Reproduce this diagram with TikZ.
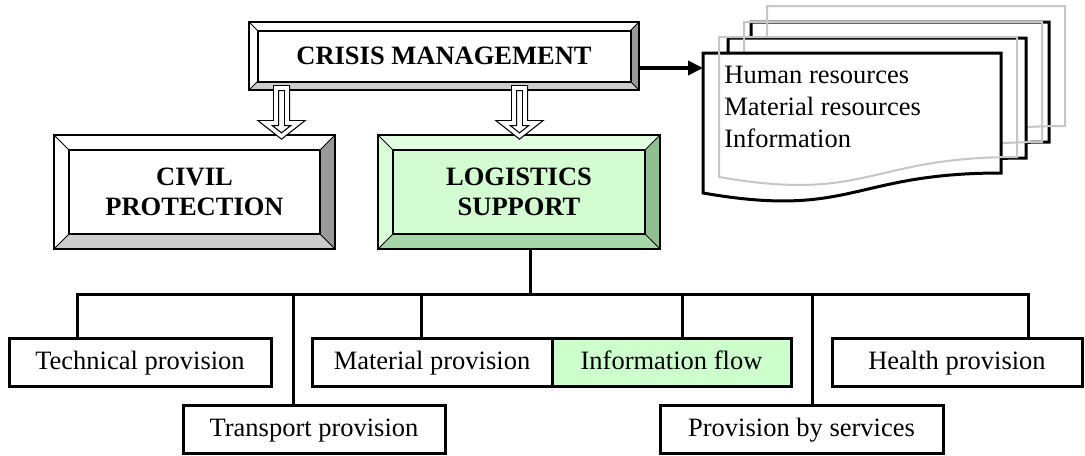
\documentclass[tikz,border=0pt]{standalone}
\usepackage{fontspec}
\setmainfont{Liberation Serif}
\usetikzlibrary{arrows.meta}

\definecolor{bvdark}{HTML}{999999}
\definecolor{bvlight}{HTML}{CCCCCC}
\definecolor{lgfill}{HTML}{D3FCD3}
\definecolor{gtop}{HTML}{E2FFE2}
\definecolor{gleft}{HTML}{DAFDDA}
\definecolor{gright}{HTML}{90BF90}
\definecolor{gbottom}{HTML}{A6D6A6}
\definecolor{infofill}{HTML}{CCFFCC}

% bevel frame round a node: name, bevel, top, left, right, bottom
\newcommand{\bevel}[6]{%
  \path (#1.north west) ++(#2,#2) coordinate (#1-a)
        (#1.north east) ++(-#2,#2) coordinate (#1-b)
        (#1.south east) ++(-#2,-#2) coordinate (#1-c)
        (#1.south west) ++(#2,-#2) coordinate (#1-d);
  \fill[#3] (#1.north west) -- (#1.north east) -- (#1-b) -- (#1-a) -- cycle;
  \fill[#4] (#1.north west) -- (#1-a) -- (#1-d) -- (#1.south west) -- cycle;
  \fill[#5] (#1.north east) -- (#1.south east) -- (#1-c) -- (#1-b) -- cycle;
  \fill[#6] (#1.south west) -- (#1.south east) -- (#1-c) -- (#1-d) -- cycle;
  \draw[line width=0.5pt] (#1.north west) -- (#1-a) (#1.north east) -- (#1-b)
        (#1.south east) -- (#1-c) (#1.south west) -- (#1-d);
  \draw[line width=1pt] (#1.north west) rectangle (#1.south east)
        (#1-a) rectangle (#1-c);
}

% one sheet of the document stack: x, y, style
\newcommand{\docpage}[3]{%
  \draw[#3] (#1,#2) -- ({#1+298},#2) -- ({#1+298},{#2+120})
    .. controls ({#1+149},{#2+120}) and ({#1+149},{#2+166}) .. (#1,{#2+140}) -- cycle;
}

\begin{document}
\begin{tikzpicture}[x=0.5pt, y=-0.5pt,
    bnode/.style = {shape = rectangle,
                    inner sep = 0pt,
                    outer sep = 0pt,
                    align = center,
                    font = \fontsize{13.25}{15}\selectfont\bfseries},
    pnode/.style = {shape = rectangle,
                    draw,
                    line width = 1.5pt,
                    inner sep = 0pt,
                    outer sep = 0pt,
                    minimum height = 24pt,
                    text height = 10pt,
                    text depth = 3pt,
                    font = \fontsize{13.25}{16}\selectfont},
    link/.style = {line width = 1.5pt, line cap = rect},
    hollow/.style = {draw, fill = white, line width = 0.6pt,
                     double = white, double distance = 1.8pt},
    page/.style = {draw, fill = white, line width = 1.5pt},
    shade/.style = {draw = gray!45, line width = 1pt},
    docarrow/.style = {line width = 1.75pt,
                       -{Triangle[length = 7.5pt, width = 7pt]}}]
  \useasboundingbox (0,0) rectangle (1085,455);

  % document stack
  \docpage{751}{22}{page}
  \docpage{767}{6}{shade}
  \docpage{728}{38}{page}
  \docpage{744}{22}{shade}
  \docpage{703}{53}{page}
  \docpage{719}{37}{shade}
  \node[anchor = north west, inner sep = 0pt, align = left,
        font = \fontsize{13.25}{16}\selectfont] (res) at (724,66)
        {Human resources\\Material resources\\Information};

  % upper boxes
  \node[bnode, minimum width = 195pt, minimum height = 34pt] (crisis) at (444,56)
        {CRISIS MANAGEMENT};
  \node[bnode, minimum width = 140.5pt, minimum height = 57pt] (civil) at (194.5,192)
        {CIVIL\\PROTECTION};
  \node[bnode, fill = lgfill, minimum width = 141pt, minimum height = 57pt] (logistics)
        at (519,192) {LOGISTICS\\SUPPORT};
  \bevel{crisis}{8.5}{white}{white}{bvdark}{bvlight}
  \bevel{civil}{15}{white}{white}{bvdark}{bvlight}
  \bevel{logistics}{15}{gtop}{gleft}{gright}{gbottom}

  \coordinate (cmout) at (639,68);
  \coordinate (p1) at (703,53);
  \draw[docarrow] (cmout) -- (cmout -| p1);

  \foreach \x in {281.5, 519.5}
    \draw[hollow] ({\x-5.5},88) -- ({\x+5.5},88) -- ({\x+5.5},123) -- ({\x+16.5},123)
      -- (\x,136) -- ({\x-16.5},123) -- ({\x-5.5},123) -- cycle;

  % provision boxes
  \node[pnode, minimum width = 131pt] (tech) at (140,362) {Technical provision};
  \node[pnode, minimum width = 120pt] (material) at (432,362) {Material provision};
  \node[pnode, fill = infofill, minimum width = 119.5pt] (info) at (671.5,362)
        {Information flow};
  \node[pnode, minimum width = 125pt] (health) at (957,362) {Health provision};
  \node[pnode, minimum width = 131pt] (transport) at (314,429.5) {Transport provision};
  \node[pnode, minimum width = 141.5pt] (services) at (801.5,429.5)
        {Provision by services};

  \coordinate (stem) at (530,294);
  \foreach \n/\x in {tech/77, transport/293, material/421, info/682,
                     services/812, health/1028}
  {
    \coordinate (b-\n) at (\x,294);
    \draw[link] (b-\n) -- (b-\n |- \n.north);
  }
  \draw[link] (b-tech) -- (b-health);
  \draw[link] (stem |- logistics.south) -- (stem);
\end{tikzpicture}
\end{document}
